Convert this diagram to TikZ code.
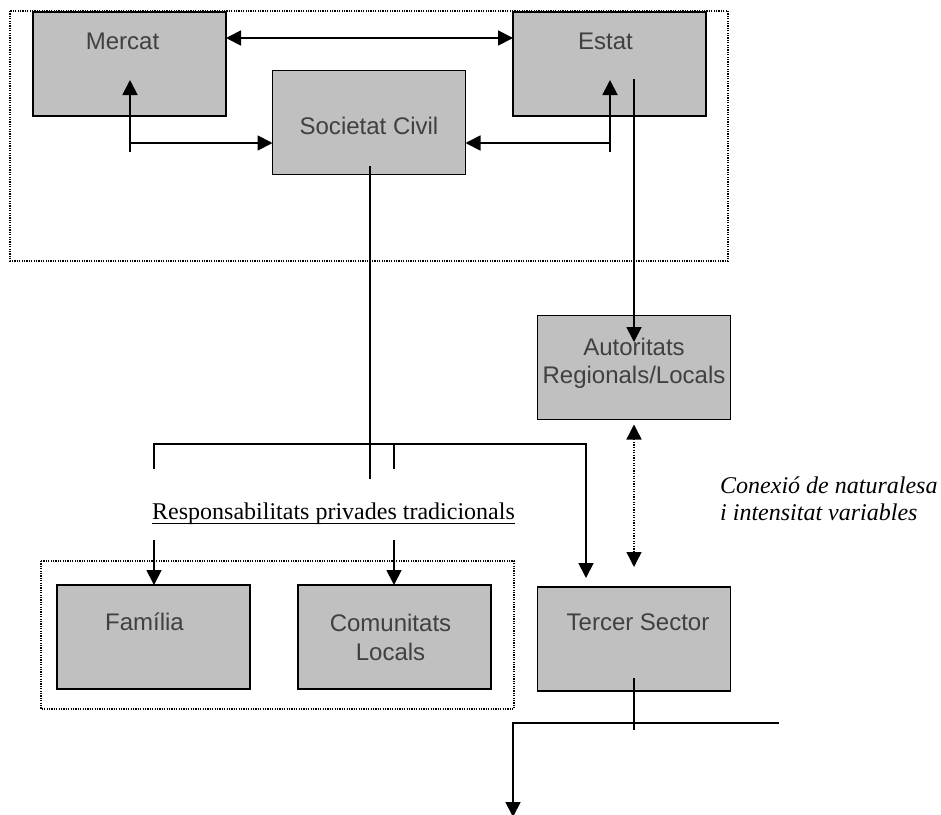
\documentclass[tikz,border=0pt]{standalone}
\usepackage{fontspec}
\setmainfont{Liberation Serif}
\setsansfont{Liberation Sans}
\usetikzlibrary{arrows.meta,calc}
\definecolor{boxgray}{RGB}{192,192,192}
\definecolor{labelgray}{RGB}{64,64,64}
\tikzset{
  box/.style={draw, line width=1.7pt, fill=boxgray, minimum width=193pt, minimum height=104pt, inner sep=0pt, outer sep=0pt},
  boxtext/.style={anchor=north, yshift=#1, inner sep=0pt, align=center, text=labelgray, font=\sffamily\fontsize{24}{28.5}\selectfont},
  link/.style={line width=1.8pt},
  group/.style={line width=1.5pt, dash pattern=on 1.2pt off 1.2pt},
  dots/.style={line width=1.4pt, dash pattern=on 1.3pt off 1.3pt},
}

\begin{document}
\begin{tikzpicture}[x=1pt, y=-1pt, >={Triangle[length=15pt,width=15pt]}]
\useasboundingbox (0,0) rectangle (941,814);

% Draw upper group
\draw[group] (10,11) rectangle (728,261);
\node[box, label={[boxtext=-21pt, xshift=-7pt]north:Mercat}] (mercat) at (129.5,64) {};
\node[box, label={[boxtext=-21pt, xshift=-4pt]north:Estat}] (estat) at (609.5,64) {};
\node[box, label={[boxtext=-46pt]north:Societat Civil}] (civil) at (369,122.5) {};

% Arrows between Mercat, Estat and Societat Civil
\draw[link,<->] ($(mercat.north east)+(0,26)$) -- ($(estat.north west)+(0,26)$);
\coordinate (mfoot) at (130,152);
\coordinate (mtip) at (130,80);
\coordinate (mjoin) at (130,143);
\draw[link,->] (mfoot) -- (mtip);
\draw[link,->] (mjoin) -- (mjoin -| civil.west);
\coordinate (efoot) at (610,152);
\coordinate (etip) at (610,80);
\coordinate (ejoin) at (610,143);
\draw[link,->] (efoot) -- (etip);
\draw[link,->] (ejoin) -- (ejoin -| civil.east);

% Estat down to the regional authorities
\node[box, label={[boxtext=-22pt]north:Autoritats\\Regionals/Locals}] (autoritats) at (634,367.5) {};
\coordinate (estart) at (634,79);
\coordinate (aend) at (634,342);
\draw[link,->] (estart) -- (aend);

% Societat Civil down to the bracket
\coordinate (cstart) at (370,166);
\coordinate (cend) at (370,479);
\draw[link] (cstart) -- (cend);

% Bracket
\coordinate (bleft) at (154,469);
\coordinate (btop) at (154,444);
\coordinate (bcorner) at (586,444);
\coordinate (btip) at (586,578);
\coordinate (bmid) at (394,469);
\draw[link,->] (bleft) -- (btop) -- (bcorner) -- (btip);
\draw[link] (bmid) -- (bmid |- bcorner);

% Underlined label
\node[anchor=base west, inner sep=0pt, font=\fontsize{24}{28}\selectfont] (resp) at (152,519) {Responsabilitats privades tradicionals};
\draw[line width=1.3pt] ($(resp.base west)+(0,4.5)$) -- ($(resp.base east)+(0,4.5)$);

% Draw lower group
\draw[group] (41,561) rectangle (514,709);
\node[box, label={[boxtext=-28pt, xshift=-9pt]north:Família}] (familia) at (153.5,637) {};
\node[box, label={[boxtext=-29pt, xshift=-4pt]north:Comunitats\\Locals}] (comunitats) at (394.5,637) {};
\coordinate (fstart) at (154,540);
\coordinate (kstart) at (394,540);
\draw[link,->] (fstart) -- (fstart |- familia.north);
\draw[link,->] (kstart) -- (kstart |- comunitats.north);

% Tercer Sector
\node[box, label={[boxtext=-27pt, xshift=4pt]north:Tercer Sector}] (tercer) at (634,639) {};
\draw[dots,<->] ($(autoritats.south)+(0,5)$) -- ($(tercer.north)+(0,-20)$);
\node[anchor=north west, inner sep=0pt, align=left, font=\itshape\fontsize{24}{27.5}\selectfont] (conexio) at (720,476.5) {Conexió de naturalesa\\i intensitat variables};

% Line out of Tercer Sector
\coordinate (tstart) at (634,678);
\coordinate (tend) at (634,730);
\coordinate (hright) at (779,723);
\coordinate (hleft) at (513,723);
\coordinate (down) at (513,817);
\draw[link] (tstart) -- (tend);
\draw[link,->] (hright) -- (hleft) -- (down);
\end{tikzpicture}
\end{document}
